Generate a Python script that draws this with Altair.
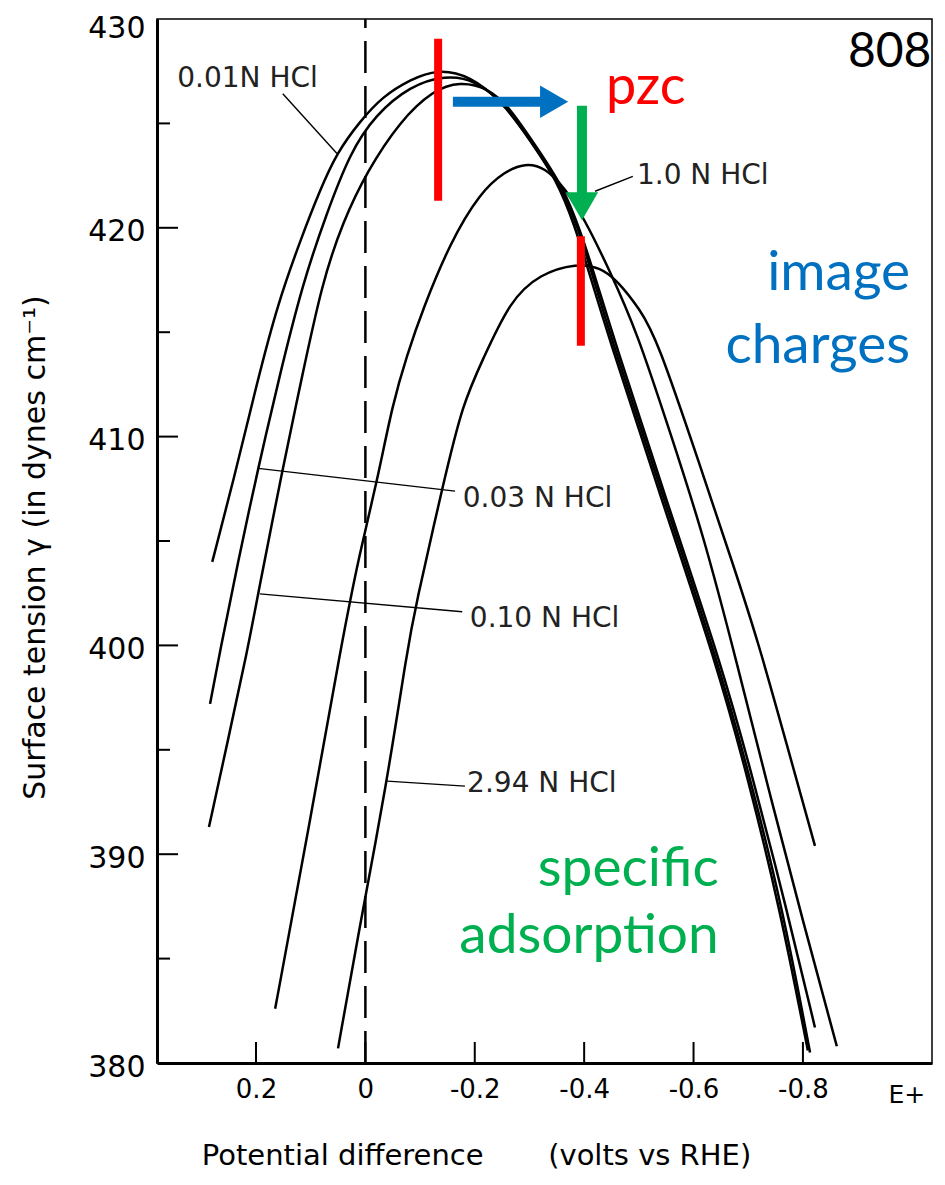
import altair as alt
import pandas as pd

# ---------------- curve data: potential (V vs RHE) , surface tension (dyn/cm) ----------------
e_001 = [0.280, 0.242, 0.198, 0.160, 0.116, 0.083, 0.052, 0.010, -0.032, -0.082, -0.131,
         -0.191, -0.252, -0.301, -0.350, -0.383, -0.412, -0.442, -0.540, -0.641, -0.698, -0.758, -0.809]
g_001 = [404.0, 407.8, 412.6, 416.4, 419.6, 421.8, 423.6, 425.1, 426.3, 427.1, 427.6,
         427.3, 426.0, 424.2, 422.3, 420.1, 417.6, 415.0, 407.1, 399.2, 393.8, 387.4, 380.6]

e_003 = [0.284, 0.266, 0.233, 0.196, 0.158, 0.114, 0.072, 0.028, -0.018, -0.082, -0.146,
         -0.200, -0.257, -0.306, -0.356, -0.389, -0.418, -0.447, -0.546, -0.646, -0.703, -0.763, -0.813]
g_003 = [397.2, 399.7, 404.0, 408.5, 412.8, 417.4, 420.6, 423.6, 425.4, 426.8, 427.3,
         427.1, 425.9, 424.0, 422.1, 420.0, 417.5, 414.9, 407.0, 399.1, 393.7, 387.4, 380.5]

e_010 = [0.286, 0.251, 0.216, 0.196, 0.151, 0.118, 0.079, 0.041, -0.003, -0.063, -0.124, -0.173,
         -0.224, -0.263, -0.312, -0.361, -0.394, -0.423, -0.453, -0.551, -0.652, -0.709, -0.769, -0.822]
g_010 = [391.3, 395.5, 399.7, 402.5, 408.5, 412.6, 417.4, 420.3, 422.7, 425.1, 426.6, 427.0,
         426.7, 425.8, 423.9, 422.0, 419.8, 417.4, 414.8, 406.9, 399.0, 393.6, 387.5, 381.7]

e_100 = [0.165, 0.101, 0.043, 0.010, -0.021, -0.050, -0.076, -0.105, -0.155, -0.210, -0.255, -0.292,
         -0.328, -0.365, -0.401, -0.444, -0.497, -0.557, -0.617, -0.679, -0.738, -0.800, -0.862]
g_100 = [382.6, 391.6, 400.2, 404.5, 407.8, 411.6, 413.9, 416.1, 419.3, 421.7, 422.7, 423.1,
         422.9, 421.9, 420.4, 418.1, 415.0, 410.2, 405.4, 399.2, 393.0, 386.8, 380.8]

e_294 = [0.050, 0.015, -0.040, -0.076, -0.091, -0.142, -0.178, -0.215, -0.264, -0.319, -0.387,
         -0.429, -0.460, -0.502, -0.533, -0.612, -0.672, -0.718, -0.771, -0.822]
g_294 = [380.7, 385.9, 393.5, 399.7, 401.8, 407.7, 411.6, 413.7, 416.5, 417.8, 418.3,
         418.1, 417.5, 416.1, 414.7, 408.6, 403.9, 400.2, 395.2, 390.4]

series_names = ["0.01N HCl", "0.03N HCl", "0.10N HCl", "1.0N HCl", "2.94N HCl"]
series_e = [e_001, e_003, e_010, e_100, e_294]
series_g = [g_001, g_003, g_010, g_100, g_294]

# ---------------- axes ----------------
x_tick_values = [0.2, 0.0, -0.2, -0.4, -0.6, -0.8]
y_label_values = [380, 390, 400, 410, 420, 430]
y_major_ticks = [390, 400, 410, 420]
y_minor_ticks = [385, 395, 405, 415, 425]

# ---------------- curve labels and leader lines ----------------
label_text = ["0.01N HCl", "0.03 N HCl", "0.10 N HCl", "2.94 N HCl", "1.0 N HCl"]
label_e = [0.344, -0.178, -0.191, -0.186, -0.4965]
label_g = [427.14, 407.0, 401.28, 393.36, 422.46]
leader_e1 = [0.151, 0.196, 0.193, -0.040, -0.420]
leader_g1 = [426.42, 408.48, 402.47, 393.50, 421.75]
leader_e2 = [0.052, -0.164, -0.177, -0.182, -0.489]
leader_g2 = [423.56, 407.39, 401.61, 393.26, 422.46]

# ---------------- overlay annotations ----------------
pzc_e = [-0.133, -0.394]
pzc_g1 = [429.05, 419.6]
pzc_g2 = [421.3, 414.35]
blue_shaft = {"e1": -0.160, "e2": -0.3283, "g": 426.04}
blue_head = {"e": -0.345, "g": 426.04}
green_shaft = {"e": -0.396, "g1": 425.85, "g2": 421.41}
green_head = {"e": -0.396, "g": 421.03}

note_text = ["pzc", "image", "charges", "specific", "adsorption", "808"]
note_e = [-0.440, -0.996, -0.996, -0.646, -0.646, -0.8823]
note_g = [425.94, 417.02, 413.54, 388.49, 385.25, 427.71]
note_color = ["#FF0000", "#0070C0", "#0070C0", "#00B050", "#00B050", "#000000"]
note_align = ["left", "right", "right", "right", "right", "left"]
note_size = [54, 55, 55, 55, 55, 48]

RED, BLUE, GREEN = "#FF0000", "#0070C0", "#00B050"
W, H = 775, 1044
NB = "\u00a0"

xscale = alt.Scale(domain=[-1.036, 0.381], reverse=True, nice=False, zero=False)
yscale = alt.Scale(domain=[380, 430], nice=False, zero=False)

x_axis = alt.Axis(
    values=x_tick_values, ticks=False, grid=False, domainWidth=3, domainColor="black",
    labelFont="DejaVu Sans", labelFontSize=26, labelColor="black", labelPadding=13,
    labelExpr="datum.value == 0 ? '0' : (datum.value < 0 ? '-' : '') + format(abs(datum.value), '.1f')",
    title="Potential difference" + NB * 7 + "(volts vs RHE)", titleFont="DejaVu Sans", titleFontSize=29,
    titleFontWeight="normal", titleColor="black", titleX=319, titleY=92,
    titleAlign="center", titleBaseline="middle",
)
y_axis = alt.Axis(
    values=y_label_values, ticks=False, grid=False, domainWidth=3, domainColor="black",
    labelFont="DejaVu Sans", labelFontSize=30, labelColor="black", labelPadding=12,
    labelOffset={"condition": {"test": "datum.value >= 430", "value": 9}, "value": 4},
    title="Surface tension γ (in dynes cm⁻¹)", titleFont="DejaVu Sans", titleFontSize=30,
    titleFontWeight="normal", titleColor="black", titleX=-122, titleY=528, titleAngle=270,
    titleAlign="center", titleBaseline="middle",
)


def X(field):
    return alt.X(field, type="quantitative", scale=xscale, axis=x_axis)


def Y(field):
    return alt.Y(field, type="quantitative", scale=yscale, axis=y_axis)


rows = []
for name, es, gs in zip(series_names, series_e, series_g):
    for i, (e, g) in enumerate(zip(es, gs)):
        rows.append({"series": name, "idx": i, "E": e, "gamma": g})
curves_df = pd.DataFrame(rows)

curves = alt.Chart(curves_df).mark_line(color="black", strokeWidth=2.5, interpolate="basis").encode(
    x=X("E"), y=Y("gamma"), detail="series:N", order="idx:Q"
)

dashed_df = pd.DataFrame({"E": [0.0], "g1": [380.0], "g2": [430.0]})
dashed = alt.Chart(dashed_df).mark_rule(color="black", strokeWidth=2.5, strokeDash=[32, 13]).encode(
    x=X("E"), y=Y("g1"), y2="g2"
)

ymaj = alt.Chart(pd.DataFrame({"v": y_major_ticks})).mark_rule(color="black", strokeWidth=2).encode(
    y=Y("v"), x=alt.value(0), x2=alt.value(21)
)
ymin = alt.Chart(pd.DataFrame({"v": y_minor_ticks})).mark_rule(color="black", strokeWidth=2).encode(
    y=Y("v"), x=alt.value(0), x2=alt.value(13)
)
xtk = alt.Chart(pd.DataFrame({"v": x_tick_values})).mark_rule(color="black", strokeWidth=2).encode(
    x=X("v"), y=alt.value(H), y2=alt.value(H - 21)
)

leaders_df = pd.DataFrame({"e1": leader_e1, "g1": leader_g1, "e2": leader_e2, "g2": leader_g2})
leaders = alt.Chart(leaders_df).mark_rule(color="black", strokeWidth=1.4).encode(
    x=X("e1"), y=Y("g1"), x2="e2", y2="g2"
)

labels_df = pd.DataFrame({"t": label_text, "E": label_e, "g": label_g})
labels = alt.Chart(labels_df).mark_text(
    align="left", baseline="middle", font="DejaVu Sans", fontSize=28, color="#222222"
).encode(x=X("E"), y=Y("g"), text="t:N")

eplus = alt.Chart(pd.DataFrame({"t": ["E+"], "E": [-0.990], "g": [378.47]})).mark_text(
    align="center", baseline="middle", font="DejaVu Sans", fontSize=25, color="black"
).encode(x=X("E"), y=Y("g"), text="t:N")

pzc_df = pd.DataFrame({"E": pzc_e, "g1": pzc_g1, "g2": pzc_g2})
pzc_bars = alt.Chart(pzc_df).mark_rule(color=RED, strokeWidth=8, strokeCap="butt").encode(
    x=X("E"), y=Y("g1"), y2="g2"
)

bshaft = alt.Chart(pd.DataFrame([blue_shaft])).mark_rule(color=BLUE, strokeWidth=10, strokeCap="butt").encode(
    x=X("e1"), x2="e2", y=Y("g")
)
bhead = alt.Chart(pd.DataFrame([blue_head])).mark_point(
    shape="triangle-right", filled=True, size=1050, color=BLUE, opacity=1, strokeWidth=0
).encode(x=X("e"), y=Y("g"))

gshaft = alt.Chart(pd.DataFrame([green_shaft])).mark_rule(color=GREEN, strokeWidth=10, strokeCap="butt").encode(
    x=X("e"), y=Y("g1"), y2="g2"
)
ghead = alt.Chart(pd.DataFrame([green_head])).mark_point(
    shape="triangle-down", filled=True, size=1050, color=GREEN, opacity=1, strokeWidth=0
).encode(x=X("e"), y=Y("g"))

notes_df = pd.DataFrame({"t": note_text, "E": note_e, "g": note_g, "c": note_color,
                         "a": note_align, "s": note_size})
notes_left = alt.Chart(notes_df[notes_df["a"] == "left"]).mark_text(
    align="left", baseline="alphabetic", font="Lato"
).encode(x=X("E"), y=Y("g"), text="t:N", color=alt.Color("c:N", scale=None),
         size=alt.Size("s:Q", scale=None))
notes_right = alt.Chart(notes_df[notes_df["a"] == "right"]).mark_text(
    align="right", baseline="alphabetic", font="Lato"
).encode(x=X("E"), y=Y("g"), text="t:N", color=alt.Color("c:N", scale=None),
         size=alt.Size("s:Q", scale=None))

chart = alt.layer(
    curves, dashed, ymaj, ymin, xtk, leaders, labels, eplus,
    pzc_bars, bshaft, bhead, gshaft, ghead, notes_left, notes_right
).properties(
    width=W, height=H,
    padding={"left": 149, "top": 11, "right": 5, "bottom": 108},
    autosize=alt.AutoSizeParams(type="none"),
    background="white",
).configure_view(stroke="black", strokeWidth=1.5)

chart.save("out.html", embed_options={"renderer": "svg", "actions": False})
